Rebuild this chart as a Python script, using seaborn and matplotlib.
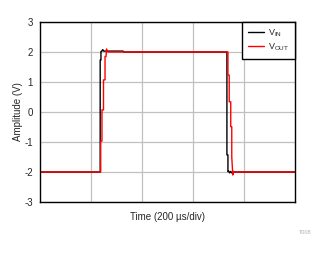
import matplotlib
matplotlib.use("Agg")
import matplotlib.pyplot as plt
import seaborn as sns
import pandas as pd

# time in divisions (200 us/div), amplitude in volts
vin_t = [0.0, 1.18, 1.18, 1.195, 1.195, 1.21, 1.23, 1.25, 1.63, 1.64, 3.665, 3.665, 3.685, 3.685, 3.70, 3.72, 3.74, 3.76, 3.78, 5.0]
vin_v = [-2.0, -2.0, 1.73, 1.73, 2.02, 2.02, 2.08, 2.03, 2.03, 2.0, 2.0, -1.43, -1.43, -1.99, -1.97, -2.03, -1.98, -2.03, -2.0, -2.0]

vout_t = [0.0, 1.19, 1.19, 1.215, 1.215, 1.245, 1.245, 1.275, 1.275, 1.295, 1.305, 1.33, 3.685, 3.685, 3.71, 3.71, 3.74, 3.74, 3.76, 3.76, 3.78, 3.79, 3.80, 5.0]
vout_v = [-2.0, -2.0, -0.97, -0.97, 0.07, 0.07, 1.07, 1.07, 1.85, 1.85, 2.1, 2.0, 2.0, 1.23, 1.23, 0.34, 0.34, -0.49, -0.49, -1.49, -2.1, -1.98, -2.0, -2.0]

labels = [r"V$_{\mathregular{IN}}$", r"V$_{\mathregular{OUT}}$"]
y_ticks = [-3, -2, -1, 0, 1, 2, 3]

sns.set_theme(style="white")
plt.rcParams["font.family"] = ["Liberation Sans", "DejaVu Sans"]

fig = plt.figure(figsize=(3.27, 2.54), dpi=100)
ax = fig.add_axes([40 / 327, 52 / 254, 255 / 327, 180 / 254])

df_in = pd.DataFrame({"t": vin_t, "v": vin_v})
df_out = pd.DataFrame({"t": vout_t, "v": vout_v})
sns.lineplot(data=df_in, x="t", y="v", ax=ax, color="black", lw=1.0, sort=False,
             estimator=None, label=labels[0])
sns.lineplot(data=df_out, x="t", y="v", ax=ax, color="#ff0000", lw=1.0, sort=False,
             estimator=None, label=labels[1])

ax.set_xlim(0, 5)
ax.set_ylim(-3, 3)
ax.set_xticks([1, 2, 3, 4])
ax.set_xticklabels([])
ax.set_yticks(y_ticks)
ax.set_yticklabels([str(t) for t in y_ticks], fontsize=7)
ax.tick_params(axis="y", length=0, pad=5)
ax.tick_params(axis="x", length=0, pad=0)
ax.grid(True, color="#c0c0c0", lw=0.9)
ax.set_axisbelow(True)
for s in ax.spines.values():
    s.set_color("black")
    s.set_linewidth(1.0)

ax.set_xlabel("Time (200 µs/div)", fontsize=7, labelpad=7)
ax.set_ylabel("Amplitude (V)", fontsize=7, labelpad=1)

leg = ax.legend(loc="upper right", bbox_to_anchor=(1.0, 1.0), fontsize=6.5, frameon=True,
                fancybox=False, framealpha=1, edgecolor="black", borderaxespad=0,
                handlelength=1.8, handletextpad=0.5, borderpad=0.6, labelspacing=0.3)
leg.get_frame().set_linewidth(1.0)

fig.text(305 / 327, 1 - 233 / 254, "T008", fontsize=4, color="#b0b0b0", ha="center", va="center")

fig.savefig("out.png", dpi=100)
